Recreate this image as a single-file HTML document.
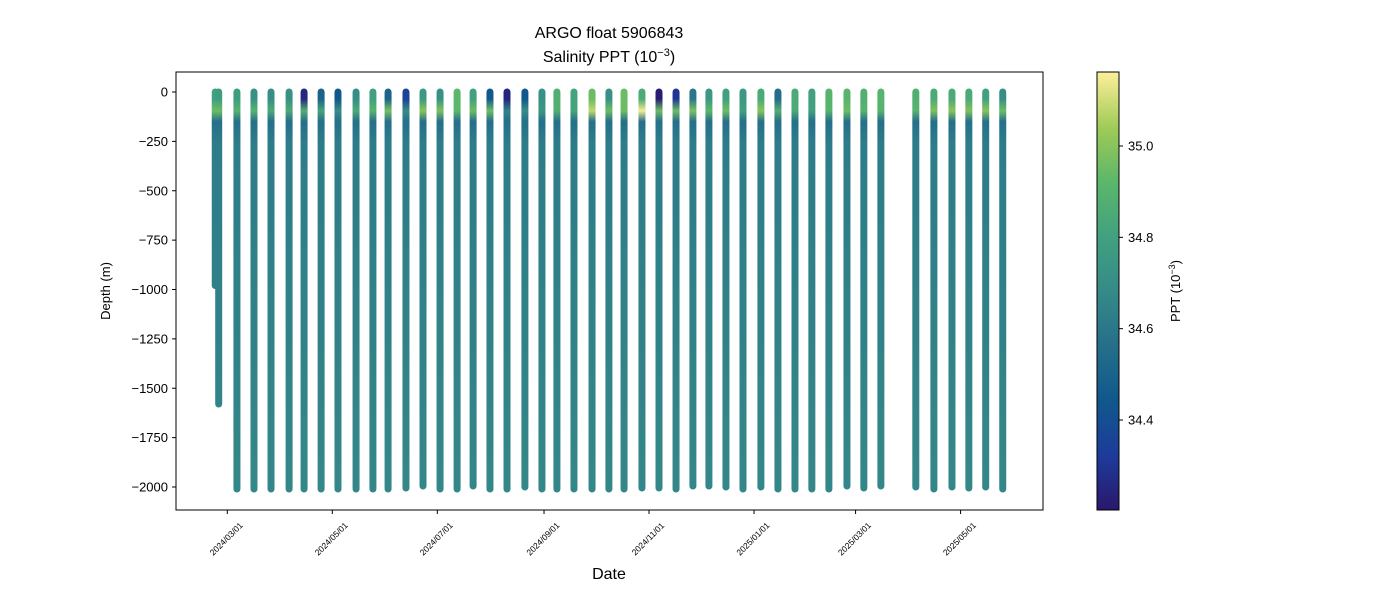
<!DOCTYPE html>
<html><head><meta charset="utf-8"><style>
body{margin:0;background:#fff;font-family:"Liberation Sans","DejaVu Sans",sans-serif}
</style></head><body>
<svg id="chart" width="1400" height="600" viewBox="0 0 1400 600" xmlns="http://www.w3.org/2000/svg" font-family="Liberation Sans, DejaVu Sans, sans-serif">
<defs id="defs"></defs>
<rect width="1400" height="600" fill="#fff"/>
<text x="609" y="38" font-size="16" text-anchor="middle">ARGO float 5906843</text>
<text x="609" y="62" font-size="16" text-anchor="middle">Salinity PPT (10<tspan dy="-6" font-size="11">−3</tspan><tspan dy="6">)</tspan></text>
<g id="marks"></g>
<rect x="176" y="72" width="867" height="438" fill="none" stroke="#000" stroke-width="1"/>
<g id="yaxis"></g>
<g id="xaxis"></g>
<text transform="translate(110,291) rotate(-90)" font-size="13" text-anchor="middle">Depth (m)</text>
<text x="609" y="579" font-size="16" text-anchor="middle">Date</text>
<g id="cbar"></g>
<text transform="translate(1180,291) rotate(-90)" font-size="13" text-anchor="middle">PPT (10<tspan dy="-5" font-size="9">−3</tspan><tspan dy="5">)</tspan></text>
</svg>
<script>
// days since 2024-03-01
const profileDays=[-7,-5,5.6,15.5,25.4,35.9,44.6,54.5,64.3,74.8,84.6,93.4,103.8,113.7,123.6,133.5,142.8,152.6,162.5,172.9,182.8,191.5,201.4,211.9,221.7,230.5,240.9,250.8,260.7,270.5,279.8,289.7,299.6,310,319.9,329.8,339.6,349.5,360,369.8,379.7,400,410.5,421,430.8,440.6,450.5];
const maxDepth=[980,1580,2010,2010,2010,2010,2010,2010,2010,2010,2010,2010,2005,1995,2010,2010,1995,2010,2010,2000,2010,2010,2010,2010,2010,2010,2005,2005,2010,1995,1995,2000,2010,2000,2010,2010,2010,2010,1995,2005,1995,2000,2010,2000,2005,2000,2010];
const surfaceSal=[34.8,34.78,34.78,34.72,34.7,34.72,34.25,34.5,34.45,34.7,34.8,34.5,34.35,34.75,34.72,34.92,34.8,34.45,34.25,34.45,34.72,34.88,34.82,34.95,34.72,34.95,34.85,34.22,34.3,34.6,34.75,34.8,34.75,34.85,34.55,34.85,34.8,34.9,34.9,34.88,34.9,34.88,34.85,34.85,34.85,34.8,34.7];
const subSal=[34.95,34.95,34.9,34.9,34.85,34.85,34.88,34.82,34.7,34.85,34.9,34.97,34.7,35.0,34.98,34.92,34.95,34.95,34.65,34.7,34.75,34.88,34.82,35.08,34.95,34.95,35.15,34.95,34.95,34.98,34.92,34.95,34.8,35.0,34.88,34.85,34.8,34.9,34.95,34.9,34.9,34.9,34.98,35.0,34.98,35.0,34.95];
const yTicks=[0,-250,-500,-750,-1000,-1250,-1500,-1750,-2000];
const xTickDays=[0,61,122,184,245,306,365,426];
const xTickLabels=["2024/03/01","2024/05/01","2024/07/01","2024/09/01","2024/11/01","2025/01/01","2025/03/01","2025/05/01"];
const cbTicks=[34.4,34.6,34.8,35.0];

const NS="http://www.w3.org/2000/svg";
const xS=d=>227.3+d*1.7213;
const yS=v=>92+(-v)*0.1975;
const cMin=34.203,cMax=35.162;
const cY=v=>510-(v-cMin)/(cMax-cMin)*438;
const stops=[[0,[41,24,107]],[0.12,[30,58,154]],[0.25,[16,88,140]],[0.38,[38,112,138]],[0.5,[54,138,136]],[0.62,[64,160,128]],[0.75,[92,183,106]],[0.87,[158,202,86]],[1,[253,239,154]]];
function cmap(v){let t=Math.max(0,Math.min(1,(v-cMin)/(cMax-cMin)));for(let i=1;i<stops.length;i++){if(t<=stops[i][0]){const a=stops[i-1],b=stops[i];const f=(t-a[0])/(b[0]-a[0]);const c=a[1].map((x,k)=>Math.round(x+(b[1][k]-x)*f));return`rgb(${c})`;}}return'rgb(253,239,154)';}
function el(tag,attrs,parent){const e=document.createElementNS(NS,tag);for(const k in attrs)e.setAttribute(k,attrs[k]);parent.appendChild(e);return e;}
const defs=document.getElementById('defs'),marks=document.getElementById('marks');
profileDays.forEach((d,i)=>{
  const g=el('linearGradient',{id:'g'+i,gradientUnits:'userSpaceOnUse',x1:0,x2:0,y1:yS(0),y2:yS(-2000)},defs);
  [[0,surfaceSal[i]],[35,surfaceSal[i]],[95,subSal[i]],[150,34.56],[260,34.62],[2000,34.67]].forEach(([dep,s])=>{
    el('stop',{offset:dep/2000,'stop-color':cmap(s)},g);
  });
  const x=xS(d);
  const ln=el('line',{x1:x,x2:x,y1:yS(0),y2:yS(-maxDepth[i]),stroke:`url(#g${i})`,'stroke-width':7,'stroke-linecap':'round'},marks);
  
  
});
const ya=document.getElementById('yaxis');
yTicks.forEach(v=>{const y=yS(v);
  el('line',{x1:172,x2:176,y1:y,y2:y,stroke:'#000'},ya);
  const t=el('text',{x:168,y:y+4.5,'font-size':13,'text-anchor':'end'},ya);t.textContent=v===0?'0':'−'+(-v);
  
  
});
const xa=document.getElementById('xaxis');
xTickDays.forEach((d,i)=>{const x=xS(d);
  el('line',{x1:x,x2:x,y1:510,y2:514,stroke:'#000'},xa);
  const t=el('text',{transform:`translate(${x+1},541) rotate(-45)`,'font-size':8.5,'text-anchor':'middle'},xa);t.textContent=xTickLabels[i];
  
  
});
const cb=document.getElementById('cbar');
const cg=el('linearGradient',{id:'cbg',x1:0,x2:0,y1:1,y2:0},defs);
stops.forEach(s=>el('stop',{offset:s[0],'stop-color':`rgb(${s[1]})`},cg));
el('rect',{x:1097,y:72,width:22,height:438,fill:'url(#cbg)',stroke:'#000','stroke-width':1},cb);
cbTicks.forEach(v=>{const y=cY(v);
  el('line',{x1:1119,x2:1123,y1:y,y2:y,stroke:'#000'},cb);
  const t=el('text',{x:1128,y:y+4.5,'font-size':13},cb);t.textContent=v.toFixed(1);
  
  
});
</script>
</body></html>
